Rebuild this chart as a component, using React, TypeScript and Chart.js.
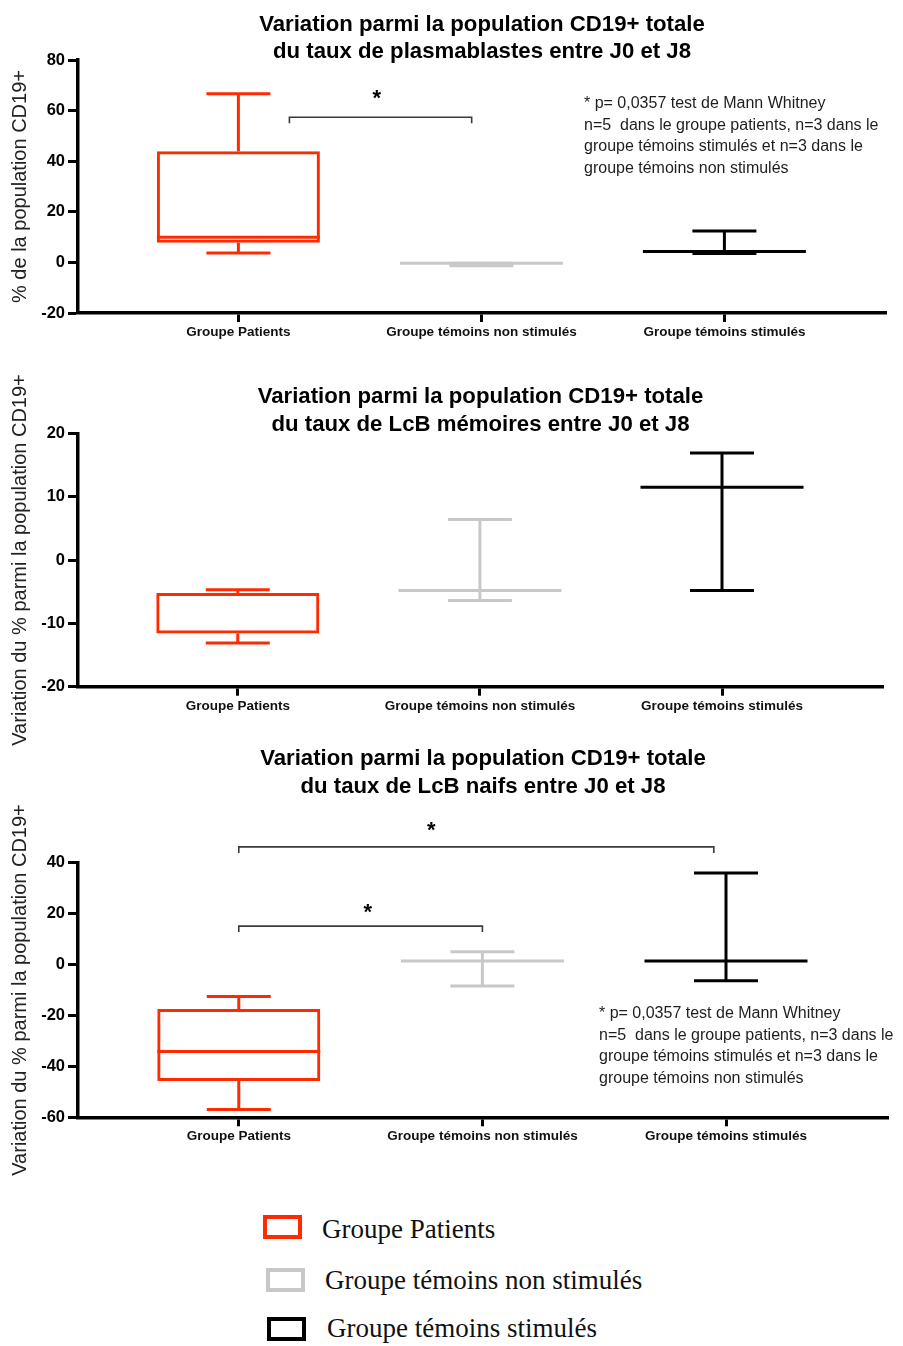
import React, { useEffect, useRef } from 'react';
import { Chart, registerables } from 'chart.js';

Chart.register(...registerables);

// ---------- Data ----------
const categories = ['Groupe Patients', 'Groupe témoins non stimulés', 'Groupe témoins stimulés'];
const groupColors = ['#ff2a00', '#c8c8c8', '#000000'];

// Panel 1 : plasmablastes
const p1Title = ['Variation parmi la population CD19+ totale', 'du taux de plasmablastes entre J0 et J8'];
const p1YTitle = '% de la population CD19+';
const p1Ticks = [-20, 0, 20, 40, 60, 80];
const p1Min = [3.7, -1.3, 3.5];
const p1Q1 = [7.8, -0.3, 4.3];
const p1Median = [9.9, -0.3, 4.3];
const p1Q3 = [43.9, -0.3, 4.3];
const p1Max = [66.7, -0.3, 12.4];
const p1Brackets = [{ from: 0.21, to: 0.96, level: 57.4 }];
const p1Stars = [{ at: 0.57, level: 66.8 }];

// Panel 2 : LcB mémoires
const p2Title = ['Variation parmi la population CD19+ totale', 'du taux de LcB mémoires entre J0 et J8'];
const p2YTitle = 'Variation du % parmi la population CD19+';
const p2Ticks = [-20, -10, 0, 10, 20];
const p2Min = [-13.1, -6.4, -4.8];
const p2Q1 = [-11.6, -4.8, 11.5];
const p2Median = [-5.2, -4.8, 11.5];
const p2Q3 = [-5.2, -4.8, 11.5];
const p2Max = [-4.7, 6.4, 16.9];

// Panel 3 : LcB naifs
const p3Title = ['Variation parmi la population CD19+ totale', 'du taux de LcB naifs entre J0 et J8'];
const p3YTitle = 'Variation du % parmi la population CD19+';
const p3Ticks = [-60, -40, -20, 0, 20, 40];
const p3Min = [-56.9, -8.4, -6.4];
const p3Q1 = [-45.7, 1.4, 1.4];
const p3Median = [-34.2, 1.4, 1.4];
const p3Q3 = [-17.5, 1.4, 1.4];
const p3Max = [-12.6, 5.0, 36.0];
const p3Brackets = [
  { from: 0, to: 1.95, level: 46.2 },
  { from: 0, to: 1.0, level: 15.1 },
];
const p3Stars = [
  { at: 0.79, level: 54.8 },
  { at: 0.53, level: 22.7 },
];

const noteLines = [
  '* p= 0,0357 test de Mann Whitney',
  'n=5  dans le groupe patients, n=3 dans le',
  'groupe témoins stimulés et n=3 dans le',
  'groupe témoins non stimulés',
];

// ---------- Styles / layout ----------
const SANS = '"Liberation Sans", Arial, Helvetica, sans-serif';
const SERIF = '"Liberation Serif", "Times New Roman", serif';
const BOX_W = 163;
const CAP_W = 64;
const LINE_W = 3;
const X_AXIS_H = 40;
const Y_AXIS_W = 78;

type Panel = {
  title: string[];
  yTitle: string;
  ticks: number[];
  mins: number[];
  q1s: number[];
  medians: number[];
  q3s: number[];
  maxs: number[];
  brackets: { from: number; to: number; level: number }[];
  stars: { at: number; level: number }[];
  showNote: boolean;
  top: number;
  height: number;
  areaTop: number;
  areaBottom: number;
  areaRight: number;
  titleBaselines: number[];
  noteX: number;
  noteY: number;
};

const panels: Panel[] = [
  {
    title: p1Title, yTitle: p1YTitle, ticks: p1Ticks,
    mins: p1Min, q1s: p1Q1, medians: p1Median, q3s: p1Q3, maxs: p1Max,
    brackets: p1Brackets, stars: p1Stars, showNote: true,
    top: 0, height: 362, areaTop: 60, areaBottom: 313, areaRight: 886,
    titleBaselines: [31, 58], noteX: 584, noteY: 108,
  },
  {
    title: p2Title, yTitle: p2YTitle, ticks: p2Ticks,
    mins: p2Min, q1s: p2Q1, medians: p2Median, q3s: p2Q3, maxs: p2Max,
    brackets: [], stars: [], showNote: false,
    top: 340, height: 430, areaTop: 433.3, areaBottom: 686.7, areaRight: 883,
    titleBaselines: [403.3, 430.7], noteX: 0, noteY: 0,
  },
  {
    title: p3Title, yTitle: p3YTitle, ticks: p3Ticks,
    mins: p3Min, q1s: p3Q1, medians: p3Median, q3s: p3Q3, maxs: p3Max,
    brackets: p3Brackets, stars: p3Stars, showNote: true,
    top: 720, height: 480, areaTop: 862.7, areaBottom: 1117.3, areaRight: 888,
    titleBaselines: [765, 793], noteX: 599, noteY: 1018,
  },
];

function line(ctx: CanvasRenderingContext2D, x1: number, y1: number, x2: number, y2: number) {
  ctx.beginPath();
  ctx.moveTo(x1, y1);
  ctx.lineTo(x2, y2);
  ctx.stroke();
}

function BoxPanel({ panel }: { panel: Panel }) {
  const ref = useRef<HTMLCanvasElement | null>(null);

  useEffect(() => {
    if (!ref.current) return;
    const p = panel;
    const decoPlugin = {
      id: 'boxDeco',
      afterDatasetsDraw(chart: any) {
        const { ctx, chartArea } = chart;
        const xs = chart.scales.x;
        const ys = chart.scales.y;
        ctx.save();
        ctx.lineWidth = LINE_W;
        ctx.lineCap = 'butt';
        for (let i = 0; i < categories.length; i++) {
          const cx = xs.getPixelForValue(i);
          ctx.strokeStyle = groupColors[i];
          const yMin = ys.getPixelForValue(p.mins[i]);
          const yMax = ys.getPixelForValue(p.maxs[i]);
          const yQ1 = ys.getPixelForValue(p.q1s[i]);
          const yQ3 = ys.getPixelForValue(p.q3s[i]);
          const yMed = ys.getPixelForValue(p.medians[i]);
          line(ctx, cx, yMax, cx, yQ3);
          line(ctx, cx, yQ1, cx, yMin);
          line(ctx, cx - CAP_W / 2, yMax, cx + CAP_W / 2, yMax);
          line(ctx, cx - CAP_W / 2, yMin, cx + CAP_W / 2, yMin);
          if (p.medians[i] !== p.q1s[i] && p.medians[i] !== p.q3s[i] || p.q1s[i] === p.q3s[i]) {
            line(ctx, cx - BOX_W / 2, yMed, cx + BOX_W / 2, yMed);
          }
        }
        // significance brackets
        ctx.strokeStyle = '#3a3a3a';
        ctx.lineWidth = 1.6;
        for (const b of p.brackets) {
          const x1 = xs.getPixelForValue(b.from);
          const x2 = xs.getPixelForValue(b.to);
          const yb = ys.getPixelForValue(b.level);
          ctx.beginPath();
          ctx.moveTo(x1, yb + 6);
          ctx.lineTo(x1, yb);
          ctx.lineTo(x2, yb);
          ctx.lineTo(x2, yb + 6);
          ctx.stroke();
        }
        ctx.fillStyle = '#000';
        ctx.font = `bold 22px ${SANS}`;
        ctx.textAlign = 'center';
        ctx.textBaseline = 'alphabetic';
        for (const s of p.stars) {
          ctx.fillText('*', xs.getPixelForValue(s.at), ys.getPixelForValue(s.level) + 12);
        }
        // titles
        ctx.font = `bold 22.2px ${SANS}`;
        ctx.textAlign = 'center';
        const midX = (chartArea.left + chartArea.right) / 2;
        p.title.forEach((t, k) => {
          ctx.fillText(t, midX, p.titleBaselines[k] - p.top);
        });
        // note
        if (p.showNote) {
          ctx.font = `16px ${SANS}`;
          ctx.fillStyle = '#1e1e1e';
          ctx.textAlign = 'left';
          noteLines.forEach((t, k) => {
            ctx.fillText(t, p.noteX, p.noteY - p.top + k * 21.6);
          });
        }
        ctx.restore();
      },
    };

    const chart = new Chart(ref.current, {
      type: 'bar',
      data: {
        datasets: [
          {
            data: categories.map((_, i) => ({ x: i, y: [p.q1s[i], p.q3s[i]] })) as any,
            backgroundColor: 'rgba(0,0,0,0)',
            borderColor: groupColors,
            borderWidth: LINE_W,
            borderSkipped: false,
            barThickness: BOX_W,
            inflateAmount: 0,
          },
        ],
      },
      options: {
        responsive: false,
        animation: false,
        events: [],
        layout: {
          padding: {
            left: 0,
            top: p.areaTop - p.top,
            right: 903 - p.areaRight,
            bottom: p.height - (p.areaBottom - p.top) - X_AXIS_H,
          },
        },
        plugins: {
          legend: { display: false },
          title: { display: false },
          tooltip: { enabled: false },
        },
        scales: {
          x: {
            type: 'linear',
            min: -0.66,
            max: 2.665,
            offset: false,
            afterBuildTicks: (scale: any) => {
              scale.ticks = categories.map((_, i) => ({ value: i }));
            },
            afterFit: (scale: any) => {
              scale.height = X_AXIS_H;
            },
            ticks: {
              autoSkip: false,
              maxRotation: 0,
              padding: 2,
              color: '#111',
              font: { family: SANS, size: 13.5, weight: 'bold' },
              callback: (v: any) => categories[v as number] ?? '',
            },
            grid: {
              offset: false,
              drawOnChartArea: false,
              drawTicks: true,
              tickLength: 9,
              tickWidth: 3,
              tickColor: '#000',
            },
            border: { display: true, color: '#000', width: 3.5 },
          },
          y: {
            type: 'linear',
            min: p.ticks[0],
            max: p.ticks[p.ticks.length - 1],
            afterBuildTicks: (scale: any) => {
              scale.ticks = p.ticks.map((v) => ({ value: v }));
            },
            afterFit: (scale: any) => {
              scale.width = Y_AXIS_W;
            },
            ticks: {
              padding: 3,
              color: '#000',
              font: { family: SANS, size: 16.5, weight: 'bold' },
              callback: (v: any) => String(v),
            },
            grid: {
              drawOnChartArea: false,
              drawTicks: true,
              tickLength: 10,
              tickWidth: 3,
              tickColor: '#000',
            },
            border: { display: true, color: '#000', width: 3.5 },
            title: {
              display: true,
              text: p.yTitle,
              color: '#222',
              font: { family: SANS, size: 20, weight: 'normal' },
              padding: { top: 8, bottom: 0 },
            },
          },
        },
      },
      plugins: [decoPlugin],
    });
    return () => chart.destroy();
  }, [panel]);

  return (
    <canvas
      ref={ref}
      width={903}
      height={panel.height}
      style={{ position: 'absolute', left: 0, top: panel.top, width: 903, height: panel.height }}
    />
  );
}

const legendItems = [
  { label: categories[0], color: groupColors[0], boxLeft: 263, boxTop: 1215, textLeft: 322, textTop: 1216.4 },
  { label: categories[1], color: groupColors[1], boxLeft: 266, boxTop: 1268, textLeft: 325, textTop: 1267.4 },
  { label: categories[2], color: groupColors[2], boxLeft: 267, boxTop: 1317, textLeft: 327, textTop: 1315.4 },
];

export default function App() {
  return (
    <div style={{ position: 'absolute', left: 0, top: 0, width: 903, height: 1346, background: '#fff', overflow: 'hidden' }}>
      {panels.map((p, i) => (
        <BoxPanel key={i} panel={p} />
      ))}
      {legendItems.map((it, i) => (
        <React.Fragment key={i}>
          <div
            style={{
              position: 'absolute',
              left: it.boxLeft,
              top: it.boxTop,
              width: 39,
              height: 24,
              boxSizing: 'border-box',
              border: `4px solid ${it.color}`,
            }}
          />
          <div
            style={{
              position: 'absolute',
              left: it.textLeft,
              top: it.textTop,
              fontFamily: SERIF,
              fontSize: 27,
              lineHeight: '27px',
              color: '#111',
              whiteSpace: 'nowrap',
            }}
          >
            {it.label}
          </div>
        </React.Fragment>
      ))}
    </div>
  );
}
